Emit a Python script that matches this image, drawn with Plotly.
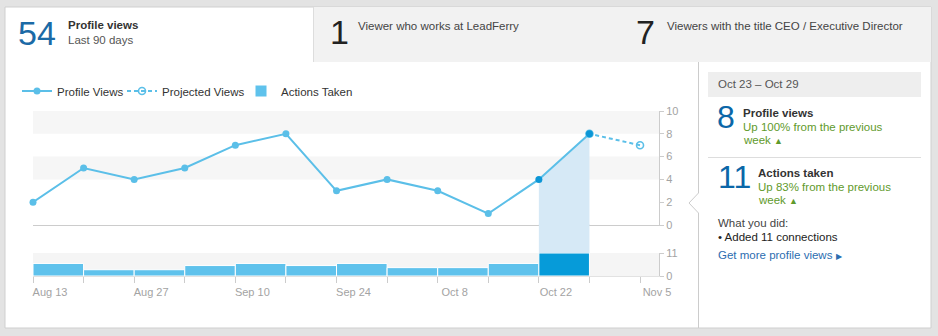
import plotly.graph_objects as go

W, H = 938, 336
def px(x): return x / W
def py(y): return 1 - y / H

# ---------------- data ----------------
weeks = ["2013-08-13", "2013-08-20", "2013-08-27", "2013-09-03", "2013-09-10", "2013-09-17",
         "2013-09-24", "2013-10-01", "2013-10-08", "2013-10-15", "2013-10-22", "2013-10-29"]
profile_views = [2, 5, 4, 5, 7, 8, 3, 4, 3, 1, 4, 8]
projected_dates = ["2013-11-05", "2013-10-29"]
projected_views = [7, 8]
action_weeks = weeks[:11]
actions_taken = [6, 3, 3, 5, 6, 5, 6, 4, 4, 6, 11]
tick_dates = ["2013-08-13", "2013-08-27", "2013-09-10", "2013-09-24", "2013-10-08", "2013-10-22", "2013-11-05"]
tick_labels = ["Aug 13", "Aug 27", "Sep 10", "Sep 24", "Oct 8", "Oct 22", "Nov 5"]
view_ticks = [0, 2, 4, 6, 8, 10]
action_ticks = [0, 11]
x_range = ["2013-08-13", "2013-11-07 15:00"]

# ---------------- style ----------------
FONT = "Liberation Sans, Arial, sans-serif"
BLUE = "#5bbfe8"
DARK = "#0c96d6"
FILL = "#d6e9f6"
GREEN = "#5f9a2c"
WEEK_MS = 7 * 86400000

xdom = [px(33), px(659)]
ydom1 = [py(225), py(111)]
ydom2 = [py(276), py(253)]

fig = go.Figure()

# highlighted week (area under the line for the selected week)
fig.add_trace(go.Scatter(x=weeks[-2:], y=profile_views[-2:], mode="none", fill="tozeroy",
                         fillcolor=FILL, showlegend=False, hoverinfo="skip",
                         xaxis="x", yaxis="y"))

fig.add_trace(go.Scatter(x=projected_dates, y=projected_views, mode="lines+markers",
                         name="Projected Views", legend="legend2",
                         line=dict(color=BLUE, width=2, dash="4px,3px"),
                         marker=dict(symbol=["circle-open", "circle"], size=7, color=BLUE,
                                     line=dict(width=1.6, color=BLUE)),
                         cliponaxis=False, xaxis="x", yaxis="y"))

mcolors = [BLUE] * (len(weeks) - 2) + [DARK, DARK]
fig.add_trace(go.Scatter(x=weeks, y=profile_views, mode="lines+markers",
                         name="Profile Views", legend="legend",
                         line=dict(color=BLUE, width=2),
                         marker=dict(size=7, color=mcolors),
                         cliponaxis=False, xaxis="x", yaxis="y"))

bcolors = ["#5fc2ec"] * (len(action_weeks) - 1) + ["#069bd9"]
fig.add_trace(go.Bar(x=action_weeks, y=actions_taken, offset=0, width=[WEEK_MS] * len(action_weeks),
                     name="Actions Taken", legend="legend3",
                     marker=dict(color=bcolors, line=dict(color="white", width=1)),
                     xaxis="x2", yaxis="y2"))

axis_common = dict(showgrid=False, zeroline=False, automargin=False)
tickfont = dict(family=FONT, size=11, color="#a3a3a3")

fig.update_layout(
    width=W, height=H, autosize=False,
    margin=dict(l=0, r=0, t=0, b=0, autoexpand=False),
    paper_bgcolor="#e3e3e3", plot_bgcolor="rgba(0,0,0,0)",
    hovermode=False,
    font=dict(family=FONT, color="#333"),
    xaxis=dict(domain=xdom, range=x_range, type="date", anchor="y",
               showline=True, linecolor="#cccccc", linewidth=1,
               showticklabels=False, ticks="", **axis_common),
    yaxis=dict(domain=ydom1, range=[0, 10], side="right", anchor="x",
               tickvals=view_ticks, ticks="outside", ticklen=4, tickcolor="#cccccc",
               showline=True, linecolor="#cccccc", tickfont=tickfont, **axis_common),
    xaxis2=dict(domain=xdom, range=x_range, type="date", anchor="y2", matches="x",
                tickvals=tick_dates, ticktext=tick_labels,
                ticks="outside", ticklen=6, tickcolor="#cccccc",
                minor=dict(tickmode="linear", tick0="2013-08-13", dtick=WEEK_MS,
                           ticks="outside", ticklen=6, tickcolor="#cccccc", showgrid=False),
                ticklabelshift=17, tickfont=tickfont,
                showline=True, linecolor="#e2e2e2", **axis_common),
    yaxis2=dict(domain=ydom2, range=[0, 11], side="right", anchor="x2",
                tickvals=action_ticks, ticks="outside", ticklen=4, tickcolor="#cccccc",
                showline=True, linecolor="#cccccc", tickfont=tickfont, **axis_common),
)

leg = dict(orientation="h", yanchor="middle", y=py(91), xanchor="left",
           bgcolor="rgba(0,0,0,0)", font=dict(family=FONT, size=11.5, color="#333"),
           itemclick=False, itemdoubleclick=False)
fig.update_layout(legend=dict(leg, x=px(17)),
                  legend2=dict(leg, x=px(122)),
                  legend3=dict(leg, x=px(241)))

shapes = [
    # main white panel
    dict(type="rect", xref="paper", yref="paper", x0=px(5), x1=px(931), y0=py(328), y1=py(7),
         fillcolor="white", line=dict(color="#cfcfcf", width=1), layer="below"),
    # unselected tabs
    dict(type="rect", xref="paper", yref="paper", x0=px(313), x1=px(931), y0=py(62), y1=py(7),
         fillcolor="#f2f2f2", line=dict(width=0), layer="below"),
    dict(type="line", xref="paper", yref="paper", x0=px(313.5), x1=px(313.5), y0=py(62), y1=py(7),
         line=dict(color="#dddddd", width=1), layer="below"),
    # right panel border with notch
    dict(type="path", xref="paper", yref="paper",
         path=f"M {px(698.5)},{py(62)} L {px(698.5)},{py(193)} L {px(689)},{py(203)} "
              f"L {px(698.5)},{py(213)} L {px(698.5)},{py(328)}",
         line=dict(color="#cccccc", width=1), layer="below"),
    dict(type="rect", xref="paper", yref="paper", x0=px(708), x1=px(921), y0=py(97), y1=py(72),
         fillcolor="#eeeeee", line=dict(width=0), layer="below"),
    dict(type="line", xref="paper", yref="paper", x0=px(708), x1=px(921), y0=py(157.5), y1=py(157.5),
         line=dict(color="#dddddd", width=1), layer="below"),
    # stripes in line chart
    dict(type="rect", xref="x domain", yref="y", x0=0, x1=1, y0=8, y1=10,
         fillcolor="#f6f6f6", line=dict(width=0), layer="below"),
    dict(type="rect", xref="x domain", yref="y", x0=0, x1=1, y0=4, y1=6,
         fillcolor="#f6f6f6", line=dict(width=0), layer="below"),
    # bar background
    dict(type="rect", xref="x2 domain", yref="y2 domain", x0=0, x1=1, y0=0, y1=1,
         fillcolor="#f5f5f5", line=dict(width=0), layer="below"),
    # highlight in gap between charts
    dict(type="rect", xref="x", yref="paper", x0=weeks[-2], x1=weeks[-1],
         y0=ydom2[1], y1=ydom1[0] + 1.0 / H,
         fillcolor=FILL, line=dict(width=0), layer="above"),
]
fig.update_layout(shapes=shapes)

def txt(x, y, s, size=11.5, color="#333", **kw):
    return dict(xref="paper", yref="paper", x=px(x), y=py(y), text=s, showarrow=False,
                xanchor="left", yanchor="middle", font=dict(family=FONT, size=size, color=color), **kw)

tri = "<span style='font-size:9px'>▲</span>"
annotations = [
    txt(16, 33, "54", size=34, color="#1b6aa6"),
    txt(66, 25.5, "<b>Profile views</b>", color="#333"),
    txt(66, 40, "Last 90 days", color="#555"),
    txt(328, 32, "1", size=34, color="#222"),
    txt(356, 26, "Viewer who works at LeadFerry", color="#444"),
    txt(634, 32, "7", size=34, color="#222"),
    txt(665, 26, "Viewers with the title CEO / Executive Director", color="#444"),
    txt(716, 84, "Oct 23 – Oct 29", color="#555"),
    txt(715, 117, "8", size=32, color="#0b67a8"),
    txt(741, 113, "<b>Profile views</b>", color="#333"),
    txt(741, 127, "Up 100% from the previous", color=GREEN),
    txt(741, 140, "week " + tri, color=GREEN),
    txt(716, 177, "11", size=32, color="#0b67a8"),
    txt(756, 173, "<b>Actions taken</b>", color="#333"),
    txt(756, 187, "Up 83% from the previous", color=GREEN),
    txt(756, 200, "week " + tri, color=GREEN),
    txt(716, 223, "What you did:", color="#444"),
    txt(716, 237, "• Added 11 connections", color="#222"),
    txt(716, 255, "Get more profile views <span style='font-size:8px'>▶</span>", color="#2c6db0"),
]
fig.update_layout(annotations=annotations)

fig.write_html("out.html", config={"displayModeBar": False},
               post_script="document.body.style.margin='0';document.body.style.overflow='hidden';")
